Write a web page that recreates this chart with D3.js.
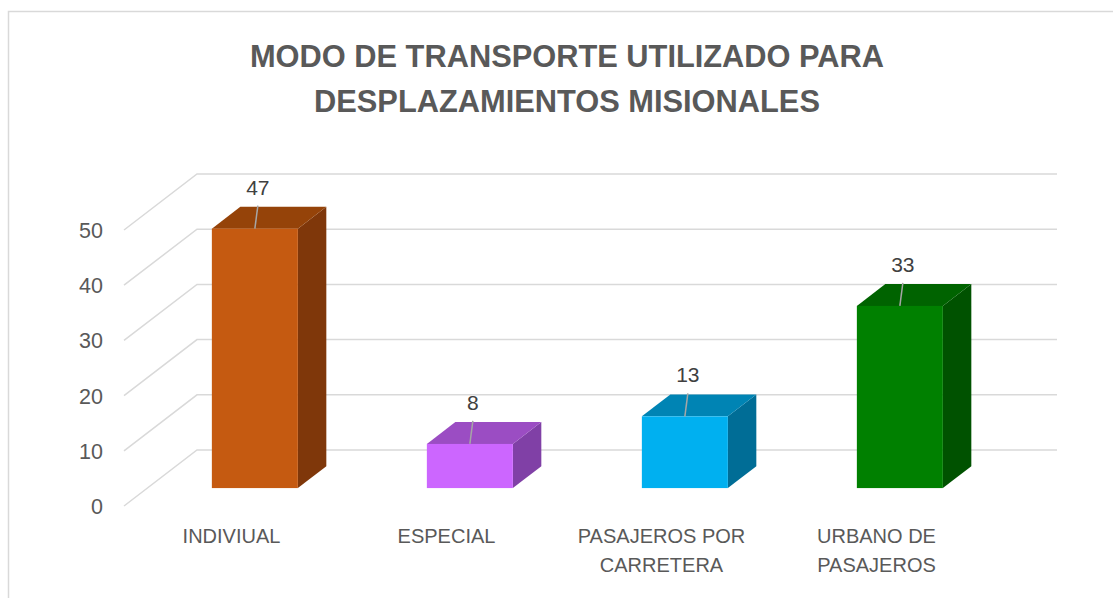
<!DOCTYPE html>
<html>
<head>
<meta charset="utf-8">
<script src="https://cdn.jsdelivr.net/npm/d3@7"></script>
<style>
    body { margin: 0; background: #fff; }
    svg text { font-family: "Liberation Sans", Arial, sans-serif; }
</style>
</head>
<body>
<svg id="chart" width="1113" height="598"></svg>
<script>
// chart data
var categories = ["INDIVIUAL", "ESPECIAL", "PASAJEROS POR CARRETERA", "URBANO DE PASAJEROS"];
var values = [47, 8, 13, 33];
var yTicks = [0, 10, 20, 30, 40, 50];
var titleLines = ["MODO DE TRANSPORTE UTILIZADO PARA", "DESPLAZAMIENTOS MISIONALES"];

// face colours: front, top, side
var frontColors = ["#C55A11", "#CC66FF", "#00B0F0", "#008000"];
var topColors = ["#954309", "#9B4DC3", "#0084B4", "#006300"];
var sideColors = ["#7F370A", "#8040A6", "#006D96", "#005200"];

var svg = d3.select("#chart");

// outer border of the chart area
svg.append("rect")
    .attr("x", 8.5).attr("y", 11.5)
    .attr("width", 1120).attr("height", 600)
    .attr("fill", "none")
    .attr("stroke", "#D9D9D9")
    .attr("stroke-width", 1.5);

// title
svg.selectAll("text.title")
    .data(titleLines)
    .enter()
    .append("text")
    .attr("class", "title")
    .attr("x", 567)
    .attr("y", function (d, i) { return 67 + i * 45; })
    .attr("text-anchor", "middle")
    .style("font-size", "30.8px")
    .style("font-weight", "bold")
    .style("fill", "#595959")
    .text(function (d) { return d; });

// front plane scales, depth gives an oblique offset
var depthX = 73, depthY = 56;

var xScale = d3.scaleBand()
    .domain(categories)
    .range([124, 984]);

var yScale = d3.scaleLinear()
    .domain([0, 50])
    .range([506, 230]);

function px(cat, z, frac) {
    return xScale(cat) + xScale.bandwidth() * frac + depthX * z;
}
function py(v, z) {
    return yScale(v) - depthY * z;
}

// gridlines: left side diagonal and back wall
var grid = svg.append("g");
yTicks.forEach(function (t) {
    grid.append("path")
        .attr("d", "M" + xScale.range()[0] + "," + py(t, 0) +
            "L" + (xScale.range()[0] + depthX) + "," + py(t, 1) +
            "L" + (xScale.range()[1] + depthX) + "," + py(t, 1))
        .attr("fill", "none")
        .attr("stroke", "#D9D9D9")
        .attr("stroke-width", 1.5);
});

// y axis labels
svg.selectAll("text.ytick")
    .data(yTicks)
    .enter()
    .append("text")
    .attr("class", "ytick")
    .attr("x", 103)
    .attr("y", function (d) { return py(d, 0) + 8; })
    .attr("text-anchor", "end")
    .style("font-size", "21.5px")
    .style("fill", "#595959")
    .text(function (d) { return d; });

// 3d bars
var zF = 0.32, zB = 0.71, bandFrac = 0.4;
var f0 = (1 - bandFrac) / 2, f1 = f0 + bandFrac;

var bars = svg.selectAll("g.bar")
    .data(values)
    .enter()
    .append("g")
    .attr("class", "bar");

function pts(list) {
    return list.map(function (p) { return p.join(","); }).join(" ");
}

// side face
bars.append("polygon")
    .attr("points", function (d, i) {
        var c = categories[i];
        return pts([[px(c, zF, f1), py(0, zF)], [px(c, zB, f1), py(0, zB)],
            [px(c, zB, f1), py(d, zB)], [px(c, zF, f1), py(d, zF)]]);
    })
    .attr("fill", function (d, i) { return sideColors[i]; });

// top face
bars.append("polygon")
    .attr("points", function (d, i) {
        var c = categories[i];
        return pts([[px(c, zF, f0), py(d, zF)], [px(c, zF, f1), py(d, zF)],
            [px(c, zB, f1), py(d, zB)], [px(c, zB, f0), py(d, zB)]]);
    })
    .attr("fill", function (d, i) { return topColors[i]; });

// front face
bars.append("rect")
    .attr("x", function (d, i) { return px(categories[i], zF, f0); })
    .attr("y", function (d) { return py(d, zF); })
    .attr("width", xScale.bandwidth() * bandFrac)
    .attr("height", function (d) { return py(0, zF) - py(d, zF); })
    .attr("fill", function (d, i) { return frontColors[i]; });

// data labels with leader lines
bars.append("line")
    .attr("x1", function (d, i) { return px(categories[i], zF, 0.5); })
    .attr("y1", function (d) { return py(d, zF); })
    .attr("x2", function (d, i) { return px(categories[i], zF, 0.5) + 3; })
    .attr("y2", function (d) { return py(d, zF) - 23; })
    .attr("stroke", "#A6A6A6")
    .attr("stroke-width", 1.5);

bars.append("text")
    .attr("x", function (d, i) { return px(categories[i], zF, 0.5) + 3; })
    .attr("y", function (d) { return py(d, zF) - 34; })
    .attr("text-anchor", "middle")
    .style("font-size", "21px")
    .style("fill", "#404040")
    .text(function (d) { return d; });

// category labels, wrapped on words
function wrap(s, maxChars) {
    var lines = [], cur = "";
    s.split(" ").forEach(function (w) {
        if (cur && (cur + " " + w).length > maxChars) {
            lines.push(cur);
            cur = w;
        } else {
            cur = cur ? cur + " " + w : w;
        }
    });
    lines.push(cur);
    return lines;
}

svg.selectAll("text.xlabel")
    .data(categories)
    .enter()
    .append("text")
    .attr("class", "xlabel")
    .attr("text-anchor", "middle")
    .style("font-size", "20px")
    .style("fill", "#595959")
    .each(function (d) {
        var t = d3.select(this);
        wrap(d, 14).forEach(function (line, k) {
            t.append("tspan")
                .attr("x", xScale(d) + xScale.bandwidth() / 2)
                .attr("y", 543 + k * 29)
                .text(line);
        });
    });
</script>
</body>
</html>
